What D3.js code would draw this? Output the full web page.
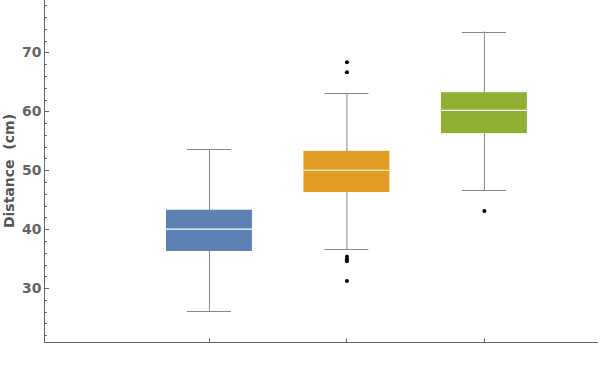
<!DOCTYPE html>
<html>
<head>
<meta charset="utf-8">
<script src="https://cdn.jsdelivr.net/npm/d3@7"></script>
<style>
  body { margin: 0; background: #fff; }
  svg { display: block; font-family: "DejaVu Sans", sans-serif; }
</style>
</head>
<body>
<div id="chart"></div>
<script>
// box statistics per group
const groups = [1, 2, 3];
const colors = ["#5e81b5", "#e19c24", "#8fb032"];
const lowWhisker = [26.1, 36.6, 46.6];
const q1 = [36.3, 46.3, 56.3];
const medians = [40.0, 50.0, 60.15];
const q3 = [43.3, 53.3, 63.25];
const highWhisker = [53.55, 63.05, 73.55];
const outliers = [
  [],
  [68.35, 66.65, 35.3, 34.9, 34.55, 31.2],
  [43.1]
];
const yTicks = [30, 40, 50, 60, 70];

const width = 600, height = 370;

const svg = d3.select("#chart").append("svg")
  .attr("width", width)
  .attr("height", height);

const x = d3.scaleLinear().domain([-0.2, 3.83]).range([44, 598]);
const y = d3.scaleLinear().domain([20.85, 78.9]).range([342, 0]);

const boxW = 0.625, capW = 0.32;
const whiskerColor = "#888";

// whiskers, boxes, medians, outliers
groups.forEach((g, i) => {
  const gg = svg.append("g");
  gg.append("line")
    .attr("x1", x(g) + 0.5).attr("x2", x(g) + 0.5)
    .attr("y1", y(highWhisker[i])).attr("y2", y(lowWhisker[i]))
    .attr("stroke", whiskerColor).attr("stroke-width", 1);
  [highWhisker[i], lowWhisker[i]].forEach(v => {
    gg.append("line")
      .attr("x1", x(g - capW / 2)).attr("x2", x(g + capW / 2))
      .attr("y1", Math.round(y(v)) + 0.5).attr("y2", Math.round(y(v)) + 0.5)
      .attr("stroke", whiskerColor).attr("stroke-width", 1);
  });
  gg.append("rect")
    .attr("x", x(g - boxW / 2))
    .attr("width", x(g + boxW / 2) - x(g - boxW / 2))
    .attr("y", y(q3[i]))
    .attr("height", y(q1[i]) - y(q3[i]))
    .attr("fill", colors[i]);
  gg.append("line")
    .attr("x1", x(g - boxW / 2)).attr("x2", x(g + boxW / 2))
    .attr("y1", y(medians[i])).attr("y2", y(medians[i]))
    .attr("stroke", "#fff").attr("stroke-width", 1.2);
  gg.selectAll("circle")
    .data(outliers[i])
    .enter().append("circle")
    .attr("cx", x(g) + 0.5)
    .attr("cy", d => y(d))
    .attr("r", 2)
    .attr("fill", "#000");
});

// y axis with minor ticks
const axisColor = "#666";
const yAxis = svg.append("g").attr("transform", "translate(44.5,0)");
yAxis.append("line")
  .attr("y1", 0).attr("y2", 342.5)
  .attr("stroke", axisColor);
const minor = d3.range(22, 79, 2).filter(v => v % 10 !== 0);
yAxis.selectAll("line.minor")
  .data(minor).enter().append("line")
  .attr("class", "minor")
  .attr("x1", 0).attr("x2", 2.5)
  .attr("y1", d => Math.round(y(d)) + 0.5).attr("y2", d => Math.round(y(d)) + 0.5)
  .attr("stroke", axisColor);
yAxis.selectAll("line.major")
  .data(yTicks).enter().append("line")
  .attr("class", "major")
  .attr("x1", 0).attr("x2", 4.5)
  .attr("y1", d => Math.round(y(d)) + 0.5).attr("y2", d => Math.round(y(d)) + 0.5)
  .attr("stroke", axisColor);
yAxis.selectAll("text")
  .data(yTicks).enter().append("text")
  .attr("x", -3)
  .attr("y", d => y(d))
  .attr("dy", "0.36em")
  .attr("text-anchor", "end")
  .attr("fill", "#666")
  .style("font-size", "14px")
  .style("font-weight", "bold")
  .text(d => d);

// x axis
const xAxis = svg.append("g").attr("transform", "translate(0,342.5)");
xAxis.append("line")
  .attr("x1", 44).attr("x2", 598)
  .attr("stroke", axisColor);
xAxis.selectAll("line.tick")
  .data(groups).enter().append("line")
  .attr("class", "tick")
  .attr("x1", d => Math.round(x(d)) + 0.5).attr("x2", d => Math.round(x(d)) + 0.5)
  .attr("y1", 0).attr("y2", -4)
  .attr("stroke", axisColor);

// axis title
svg.append("text")
  .attr("transform", "translate(14,171) rotate(-90)")
  .attr("text-anchor", "middle")
  .attr("fill", "#555")
  .style("font-size", "14px")
  .style("font-weight", "bold")
  .style("white-space", "pre")
  .text("Distance  (cm)");
</script>
</body>
</html>
